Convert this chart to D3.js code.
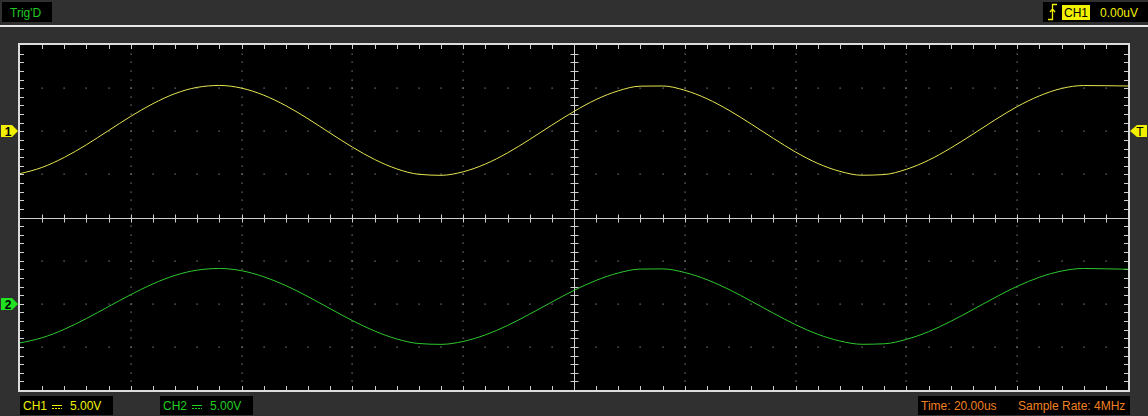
<!DOCTYPE html>
<html>
<head>
<meta charset="utf-8">
<script src="https://cdn.jsdelivr.net/npm/d3@7"></script>
<style>
  html, body { margin: 0; padding: 0; background: #303030; overflow: hidden; }
  svg { display: block; }
  text { font-family: "Liberation Sans", Arial, sans-serif; font-size: 12px; }
</style>
</head>
<body>
<svg id="chart" width="1148" height="416"></svg>
<script>
// ---- Data ----
// time in microseconds, 20 us/div, trigger at screen centre
const timesUs = d3.range(-100, 101, 4);
// CH1 volts relative to CH1 ground marker (5 V/div)
const ch1Volts = [-4.91, -4.19, -3.03, -1.56, 0.09, 1.73, 3.20, 4.37, 5.09, 5.31,
  5.00, 4.18, 2.96, 1.44, -0.22, -1.84, -3.27, -4.36, -4.99, -5.11,
  -4.70, -3.80, -2.51, -0.95, 0.71, 2.30, 3.68, 4.69, 5.23, 5.25,
  4.75, 3.77, 2.42, 0.83, -0.83, -2.41, -3.73, -4.65, -5.10, -5.02,
  -4.41, -3.36, -1.95, -0.34, 1.32, 2.86, 4.10, 4.96, 5.30, 5.28, 5.25];
// CH2 volts relative to CH2 ground marker (5 V/div)
const ch2Volts = [-4.54, -3.94, -2.96, -1.71, -0.32, 1.06, 2.31, 3.29, 3.90, 4.09,
  3.83, 3.13, 2.10, 0.82, -0.58, -1.95, -3.16, -4.08, -4.61, -4.71,
  -4.37, -3.61, -2.52, -1.20, 0.20, 1.55, 2.71, 3.57, 4.02, 4.04,
  3.62, 2.79, 1.65, 0.30, -1.10, -2.43, -3.54, -4.32, -4.70, -4.64,
  -4.13, -3.24, -2.04, -0.68, 0.72, 2.02, 3.07, 3.79, 4.09, 4.05, 4.00];
const ch1GroundDiv = 2;   // divisions above centre
const ch2GroundDiv = -2;
const voltsPerDiv = 5;
const timeLabel = "Time: 20.00us";
const rateLabel = "Sample Rate: 4MHz";
const ch1Label = "CH1";
const ch2Label = "CH2";
const ch1Scale = "5.00V";
const ch2Scale = "5.00V";
const trigStatus = "Trig'D";
const trigLevel = "0.00uV";

// ---- Layout ----
const svg = d3.select("#chart");
const L = 20, R = 1128, T = 45, B = 390;
const hDivs = 10, vDivs = 8, minor = 5;

svg.append("rect").attr("width", 1148).attr("height", 416).attr("fill", "#303030");
// top separator line
svg.append("rect").attr("x", 0).attr("y", 25).attr("width", 1148).attr("height", 2).attr("fill", "#e8e8e8");

// plot area
svg.append("rect").attr("x", L - 1).attr("y", T - 1).attr("width", R - L + 2).attr("height", B - T + 2)
  .attr("fill", "#000").attr("stroke", "#dcdcdc").attr("stroke-width", 2);

const x = d3.scaleLinear().domain([-100, 100]).range([L, R]);
const yDiv = d3.scaleLinear().domain([-vDivs / 2, vDivs / 2]).range([B, T]);
const xDiv = d3.scaleLinear().domain([0, hDivs]).range([L, R]);
const y1 = d3.scaleLinear().domain([(-vDivs / 2 - ch1GroundDiv) * voltsPerDiv, (vDivs / 2 - ch1GroundDiv) * voltsPerDiv]).range([B, T]);
const y2 = d3.scaleLinear().domain([(-vDivs / 2 - ch2GroundDiv) * voltsPerDiv, (vDivs / 2 - ch2GroundDiv) * voltsPerDiv]).range([B, T]);

const g = svg.append("g");
// dotted grid
const dots = [];
for (let i = 1; i < hDivs; i++) {
  if (i === hDivs / 2) continue;
  for (let j = 1; j < vDivs * minor; j++) dots.push([xDiv(i), yDiv(-vDivs / 2 + j / minor)]);
}
for (let j = 1; j < vDivs; j++) {
  if (j === vDivs / 2) continue;
  for (let i = 1; i < hDivs * minor; i++) dots.push([xDiv(i / minor), yDiv(-vDivs / 2 + j)]);
}
g.selectAll("rect.dot").data(dots).enter().append("rect").attr("class", "dot")
  .attr("x", d => Math.round(d[0]) - 0.5).attr("y", d => Math.round(d[1]) - 0.5)
  .attr("width", 1.2).attr("height", 1.2).attr("fill", "#8a8a8a");

// centre cross
const cx = Math.round(xDiv(hDivs / 2)) + 0.5, cy = Math.round(yDiv(0)) + 0.5;
g.append("line").attr("x1", L).attr("x2", R).attr("y1", cy).attr("y2", cy).attr("stroke", "#d0d0d0");
g.append("line").attr("x1", cx).attr("x2", cx).attr("y1", T).attr("y2", B).attr("stroke", "#d0d0d0");

// ticks
const tk = [];
for (let i = 1; i < hDivs * minor; i++) {
  const xx = Math.round(xDiv(i / minor)) + 0.5;
  tk.push([xx, T, xx, T + 4]);
  tk.push([xx, B - 4, xx, B]);
  tk.push([xx, cy - 4, xx, cy + 4]);
}
for (let j = 1; j < vDivs * minor; j++) {
  const yy = Math.round(yDiv(-vDivs / 2 + j / minor)) + 0.5;
  tk.push([L, yy, L + 4, yy]);
  tk.push([R - 4, yy, R, yy]);
  tk.push([cx - 4, yy, cx + 4, yy]);
}
g.selectAll("line.tk").data(tk).enter().append("line").attr("class", "tk")
  .attr("x1", d => d[0]).attr("y1", d => d[1]).attr("x2", d => d[2]).attr("y2", d => d[3])
  .attr("stroke", "#d0d0d0").attr("stroke-width", 1);

// traces
const line1 = d3.line().x((d, i) => x(timesUs[i])).y(d => y1(d)).curve(d3.curveMonotoneX);
const line2 = d3.line().x((d, i) => x(timesUs[i])).y(d => y2(d)).curve(d3.curveMonotoneX);
svg.append("path").datum(ch1Volts).attr("d", line1).attr("fill", "none").attr("stroke", "#e6e650").attr("stroke-width", 1);
svg.append("path").datum(ch2Volts).attr("d", line2).attr("fill", "none").attr("stroke", "#2ec82e").attr("stroke-width", 1);

// channel markers
function leftMarker(yc, color, label) {
  const yy = Math.round(yc);
  svg.append("path").attr("d", `M1,${yy - 6} L12,${yy - 6} L18,${yy} L12,${yy + 6} L1,${yy + 6} Z`).attr("fill", color);
  svg.append("text").attr("x", 8).attr("y", yy + 5).attr("text-anchor", "middle")
    .attr("font-weight", "bold").attr("fill", "#000").text(label);
}
leftMarker(y1(0), "#f0f000", "1");
leftMarker(y2(0), "#22e022", "2");
// trigger level marker (right)
{
  const yy = Math.round(y1(0));
  svg.append("path").attr("d", `M1147,${yy - 6} L1137,${yy - 6} L1130,${yy} L1137,${yy + 6} L1147,${yy + 6} Z`).attr("fill", "#f0f000");
  svg.append("text").attr("x", 1140).attr("y", yy + 5).attr("text-anchor", "middle").attr("fill", "#000").text("T");
}

// top status boxes
svg.append("rect").attr("x", 2).attr("y", 2).attr("width", 50).attr("height", 20).attr("fill", "#000");
svg.append("text").attr("x", 10).attr("y", 17).attr("fill", "#22c822").text(trigStatus);

svg.append("rect").attr("x", 1043).attr("y", 2).attr("width", 105).attr("height", 20).attr("fill", "#000");
svg.append("path").attr("d", "M1048,19.5 L1052.5,19.5 L1052.5,4.5 L1057,4.5 M1050,12 L1052.5,9 L1055,12")
  .attr("fill", "none").attr("stroke", "#f0f000").attr("stroke-width", 1.3);
svg.append("rect").attr("x", 1062).attr("y", 5).attr("width", 28).attr("height", 15).attr("fill", "#f0f000");
svg.append("text").attr("x", 1064).attr("y", 17).attr("fill", "#000").text(ch1Label);
svg.append("text").attr("x", 1100).attr("y", 17).attr("fill", "#f0f000").text(trigLevel);

// bottom status boxes
function chBox(x0, color, lab, scale) {
  svg.append("rect").attr("x", x0).attr("y", 396).attr("width", 93).attr("height", 19).attr("fill", "#000");
  svg.append("text").attr("x", x0 + 3).attr("y", 410).attr("fill", color).text(lab);
  svg.append("line").attr("x1", x0 + 32).attr("x2", x0 + 42).attr("y1", 405.5).attr("y2", 405.5).attr("stroke", color);
  svg.append("line").attr("x1", x0 + 32).attr("x2", x0 + 42).attr("y1", 408.5).attr("y2", 408.5).attr("stroke", color).attr("stroke-dasharray", "2,1");
  svg.append("text").attr("x", x0 + 50).attr("y", 410).attr("fill", color).text(scale);
}
chBox(20, "#f0f000", ch1Label, ch1Scale);
chBox(160, "#22d022", ch2Label, ch2Scale);

svg.append("rect").attr("x", 918).attr("y", 396).attr("width", 212).attr("height", 19).attr("fill", "#000");
svg.append("text").attr("x", 921).attr("y", 410).attr("fill", "#f08020").text(timeLabel);
svg.append("text").attr("x", 1018).attr("y", 410).attr("fill", "#f08020").text(rateLabel);
</script>
</body>
</html>
